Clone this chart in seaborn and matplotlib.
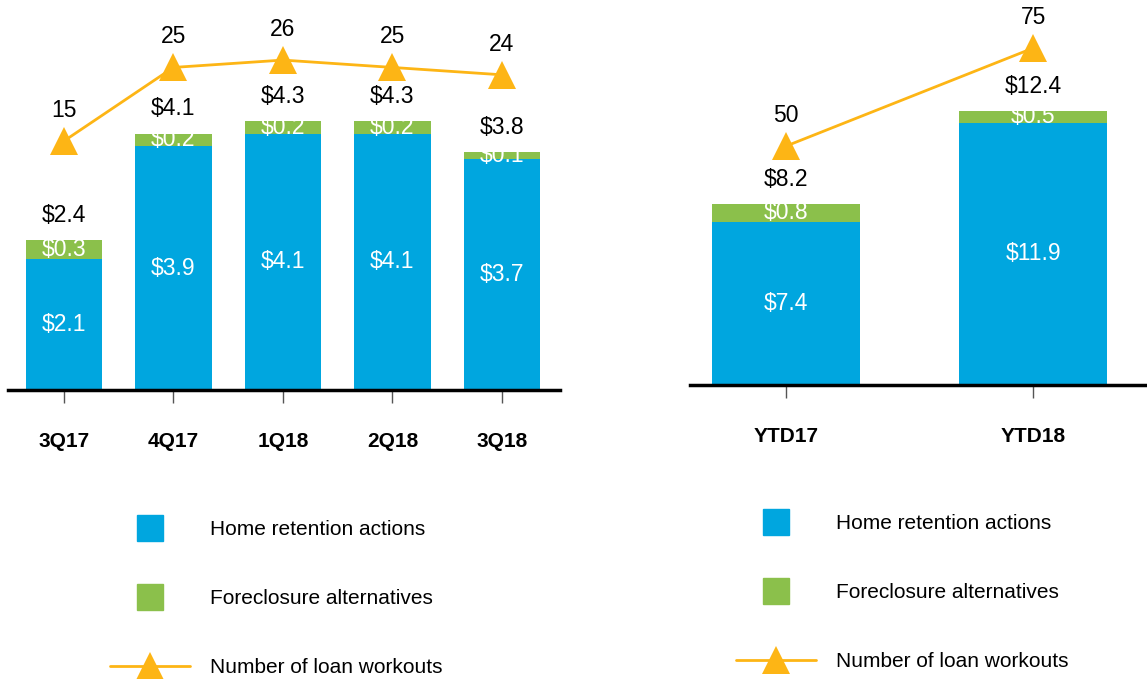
import numpy as np
import matplotlib
matplotlib.use('Agg')
import matplotlib.pyplot as plt
import seaborn as sns
from matplotlib.lines import Line2D

# ---------------------------------------------------------------------------
# DATOS
# ---------------------------------------------------------------------------
trimestres = ['3Q17', '4Q17', '1Q18', '2Q18', '3Q18']
retencion_trim = [2.1, 3.9, 4.1, 4.1, 3.7]
alternativas_trim = [0.3, 0.2, 0.2, 0.2, 0.1]
workouts_trim = [15, 25, 26, 25, 24]

periodos_ytd = ['YTD17', 'YTD18']
retencion_ytd = [7.4, 11.9]
alternativas_ytd = [0.8, 0.5]
workouts_ytd = [50, 75]

etiquetas_leyenda = ['Home retention actions', 'Foreclosure alternatives',
                     'Number of loan workouts']

AZUL = '#00A6DF'
VERDE = '#8BC04B'
NARANJA = '#FDB515'

sns.set_style('white')
plt.rcParams['font.family'] = ['Liberation Sans', 'DejaVu Sans']
plt.rcParams['text.color'] = 'black'


def panel(fig, rect, cats, retencion, alternativas, workouts, ylim, ylim2, xlim, ancho):
    ax = fig.add_axes(rect)
    x = np.arange(len(cats))
    totales = [r + a for r, a in zip(retencion, alternativas)]

    # barras apiladas: total (verde) y encima la parte azul
    sns.barplot(x=x, y=totales, color=VERDE, width=ancho, saturation=1,
                native_scale=True, linewidth=0, ax=ax)
    sns.barplot(x=x, y=retencion, color=AZUL, width=ancho, saturation=1,
                native_scale=True, linewidth=0, ax=ax)
    ax.set_xlim(*xlim)
    ax.set_ylim(*ylim)

    for i, (r, a, t) in enumerate(zip(retencion, alternativas, totales)):
        ax.text(i, r / 2, f'${r}', ha='center', va='center', color='white', fontsize=16.5)
        ax.text(i, r + a / 2, f'${a}', ha='center', va='center', color='white', fontsize=16.5)
        ax.annotate(f'${t:.1f}', (i, t), xytext=(0, 18), textcoords='offset points',
                    ha='center', va='center', fontsize=16.5, color='black')

    ax2 = ax.twinx()
    sns.lineplot(x=x, y=workouts, color=NARANJA, lw=2, marker='^', markersize=20,
                 markeredgewidth=0, ax=ax2)
    ax2.set_ylim(*ylim2)
    for i, w in enumerate(workouts):
        ax2.annotate(str(w), (i, w), xytext=(0, 22), textcoords='offset points',
                     ha='center', va='center', fontsize=16.5, color='black')

    for a in (ax, ax2):
        for s in a.spines.values():
            s.set_visible(False)
        a.set_yticks([])
        a.set_ylabel('')
    ax.spines['bottom'].set_visible(True)
    ax.spines['bottom'].set_color('black')
    ax.spines['bottom'].set_linewidth(2.5)
    ax.set_xticks(x)
    ax.set_xticklabels(cats, fontweight='bold', fontsize=15, color='black')
    ax.tick_params(axis='x', bottom=True, length=9.5, width=1, color='#555555', pad=21)
    return ax


def leyenda(fig, x0, y0):
    handles = [
        Line2D([], [], ls='none', marker='s', markersize=19, color=AZUL),
        Line2D([], [], ls='none', marker='s', markersize=19, color=VERDE),
        Line2D([], [], color=NARANJA, lw=2, marker='^', markersize=20, markeredgewidth=0),
    ]
    fig.legend(handles, etiquetas_leyenda, loc='upper left', bbox_to_anchor=(x0, y0),
               frameon=False, fontsize=15, handlelength=3.85, handletextpad=0.95,
               labelspacing=2.4, borderpad=0, borderaxespad=0, labelcolor='black')


fig = plt.figure(figsize=(11.47, 6.79), dpi=100)

panel(fig, [8 / 1147, 289 / 679, 552 / 1147, 380 / 679],
      trimestres, retencion_trim, alternativas_trim, workouts_trim,
      ylim=(0, 6.08), ylim2=(-18.8, 32.8), xlim=(-0.51, 4.53), ancho=0.7)

panel(fig, [690 / 1147, 294 / 679, 457 / 1147, 375 / 679],
      periodos_ytd, retencion_ytd, alternativas_ytd, workouts_ytd,
      ylim=(0, 17.0), ylim2=(-11, 84.7), xlim=(-0.39, 1.46), ancho=0.6)

leyenda(fig, 110 / 1147, 1 - 520 / 679)
leyenda(fig, 736 / 1147, 1 - 514 / 679)

fig.savefig('out.png', dpi=100)
